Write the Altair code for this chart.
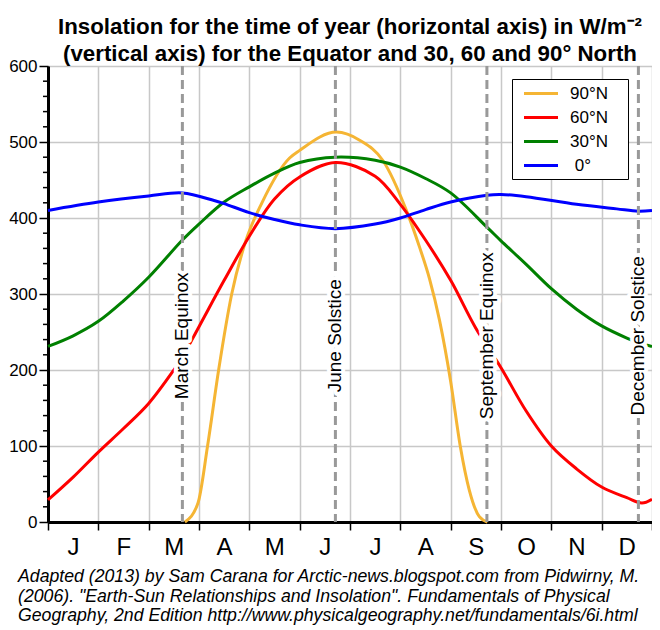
import altair as alt
import pandas as pd

# ---------------- data ----------------
months = ["J", "F", "M", "A", "M", "J", "J", "A", "S", "O", "N", "D"]

series_names = ["90°N", "60°N", "30°N", "0°"]
series_colors = ["#f5b534", "#ff0000", "#008000", "#0000ff"]

# x = months since 1 January (0..12), y = W/m²
n90_month = [2.72, 2.98, 3.17, 3.39, 3.65, 3.93, 4.25, 4.80, 5.00, 5.73, 6.20,
             6.65, 7.12, 7.38, 7.58, 7.78, 8.00, 8.19, 8.37, 8.57, 8.73]
n90_value = [0, 25, 100, 200, 300, 370, 420, 479, 489, 513, 502,
             476, 410, 362, 320, 265, 185, 100, 42, 7, 0]

n60_month = [0, 0.5, 1, 1.5, 2, 2.5, 2.67, 3, 3.5, 4, 4.5, 5, 5.71, 6.5, 7,
             7.5, 8, 8.5, 9, 9.5, 10, 10.5, 11, 11.5, 11.8, 12]
n60_value = [29, 59, 92, 123, 156, 200, 217, 257, 318, 376, 425, 454, 473, 455, 418,
             371, 318, 255, 203, 146, 100, 70, 46, 32, 25, 30]

n30_month = [0, 0.5, 1, 1.5, 2, 2.67, 3, 3.5, 4, 4.5, 5, 5.71, 6.5, 7, 7.5, 8,
             8.72, 9, 9.5, 10, 10.5, 11, 11.5, 11.73, 12]
n30_value = [231, 245, 264, 291, 322, 371, 392, 421, 441, 459, 473, 480, 476, 467, 452, 433,
             388, 370, 339, 307, 280, 258, 242, 236, 231]

eq_month = [0, 1, 2, 2.67, 3.3, 3.5, 4, 4.5, 5, 5.71, 6.5, 7, 7.5, 8, 8.72, 9,
            9.5, 10.5, 11.3, 11.73, 12]
eq_value = [410, 421, 429, 433, 423, 419, 407, 398, 391, 386, 392, 400, 411, 421, 430, 431,
            428, 418, 412, 409, 410]

event_names = ["March Equinox", "June Solstice", "September Equinox", "December Solstice"]
event_months = [2.67, 5.71, 8.72, 11.73]
event_label_value = 245

y_major_ticks = [0, 100, 200, 300, 400, 500, 600]
y_minor_ticks = [v for v in range(0, 601, 20) if v not in y_major_ticks]

title_lines = ["Insolation for the time of year (horizontal axis) in W/m\u207b\u00b2",
               "(vertical axis) for the Equator and 30, 60 and 90\u00b0 North"]
footer_lines = [
    "Adapted (2013) by Sam Carana for Arctic-news.blogspot.com from Pidwirny, M.",
    "(2006). \"Earth-Sun Relationships and Insolation\". Fundamentals of Physical",
    "Geography, 2nd Edition http://www.physicalgeography.net/fundamentals/6i.html",
]

# ---------------- tables ----------------
rows = []
for name, ms, vs in [(series_names[0], n90_month, n90_value),
                     (series_names[1], n60_month, n60_value),
                     (series_names[2], n30_month, n30_value),
                     (series_names[3], eq_month, eq_value)]:
    for m, v in zip(ms, vs):
        rows.append({"series": name, "month": m, "value": v})
curves = pd.DataFrame(rows)
polar = curves[curves["series"] == series_names[0]]
others = curves[curves["series"] != series_names[0]]

events = pd.DataFrame({"event": event_names, "month": event_months,
                       "label_at": [event_label_value] * len(event_names)})
minor = pd.DataFrame({"value": y_minor_ticks})

# ---------------- scales & axes ----------------
x_scale = alt.Scale(domain=[0, 12], nice=False, zero=False)
y_scale = alt.Scale(domain=[0, 600], nice=False)

month_expr = "[" + ",".join("'%s'" % m for m in months) + ",''][datum.value]"

x_axis = alt.Axis(values=list(range(13)), labelExpr=month_expr, labelOffset=25,
                  labelFlush=False, labelOverlap=False, labelFontSize=24, labelPadding=5,
                  labelColor="black", tickSize=8, tickWidth=1.5, tickColor="black",
                  domainColor="black", domainWidth=3, grid=True, gridColor="#c8c8c8",
                  gridWidth=1.5, title=None)

y_axis = alt.Axis(values=y_major_ticks, labelFlush=False, labelOverlap=False,
                  labelFontSize=17, labelPadding=2, labelColor="black",
                  tickSize=9, tickWidth=1.5, tickColor="black",
                  domainColor="black", domainWidth=3,
                  grid=True, gridColor="#c8c8c8", gridWidth=1.5,
                  title=None)

# zero-width spaces keep the padding spaces from being trimmed
zw, nb = "\u200b", "\u00a0"
legend_label_expr = ("datum.label === '0°' ? '" + zw + nb + "0°" + nb * 3 + zw +
                     "' : datum.label + '" + nb * 3 + zw + "'")

color = alt.Color("series:N", scale=alt.Scale(domain=series_names, range=series_colors),
                  legend=alt.Legend(title=None, orient="none", legendX=464, legendY=13,
                                    strokeColor="black", fillColor="white", padding=5,
                                    symbolType="M-0.3125,0L3.9375,0", symbolSize=256,
                                    symbolStrokeWidth=3, labelFontSize=17, labelOffset=34,
                                    rowPadding=6, labelColor="black", zindex=2,
                                    labelExpr=legend_label_expr))

polar_line = alt.Chart(polar).mark_line(strokeWidth=3, interpolate="monotone").encode(
    x=alt.X("month:Q", scale=x_scale, axis=x_axis),
    y=alt.Y("value:Q", scale=y_scale, axis=y_axis),
    color=color,
)

other_lines = alt.Chart(others).mark_line(strokeWidth=3, interpolate="catmull-rom").encode(
    x=alt.X("month:Q", scale=x_scale),
    y=alt.Y("value:Q", scale=y_scale),
    color=color,
)

minor_ticks = alt.Chart(minor).mark_rule(color="black", strokeWidth=1.5).encode(
    y=alt.Y("value:Q", scale=y_scale),
    x=alt.value(-5), x2=alt.value(0),
)

rules = alt.Chart(events).mark_rule(color="#999999", strokeWidth=3, strokeDash=[9, 5]).encode(
    x=alt.X("month:Q", scale=x_scale),
)

halo = alt.Chart(events).mark_text(angle=270, fontSize=19, color="white", stroke="white",
                                   strokeWidth=8, strokeJoin="round", align="center",
                                   baseline="middle").encode(
    x=alt.X("month:Q", scale=x_scale),
    y=alt.Y("label_at:Q", scale=y_scale),
    text="event:N",
)

labels = alt.Chart(events).mark_text(angle=270, fontSize=19, color="black", align="center",
                                     baseline="middle").encode(
    x=alt.X("month:Q", scale=x_scale),
    y=alt.Y("label_at:Q", scale=y_scale),
    text="event:N",
)

footer = alt.Chart(pd.DataFrame({"k": [0]})).mark_text(
    align="left", baseline="top", fontSize=17.7, fontStyle="italic", lineHeight=19.5,
    color="black").encode(
    x=alt.value(-30), y=alt.value(502), text=alt.value(footer_lines))

chart = alt.layer(polar_line, other_lines, minor_ticks, rules, halo, labels, footer).properties(
    width=604, height=456,
    title=alt.TitleParams(text=title_lines, font="Liberation Sans", fontSize=22.3,
                          fontWeight="bold", anchor="middle", frame="group", offset=-6,
                          dy=2, lineHeight=27, color="black"),
    padding={"left": 40, "top": 58, "right": 0, "bottom": 106},
    autosize=alt.AutoSizeParams(type="none"),
).configure(font="Liberation Sans").configure_view(stroke="black", strokeWidth=1)

chart.save("out.html", embed_options={"renderer": "svg", "actions": False})
